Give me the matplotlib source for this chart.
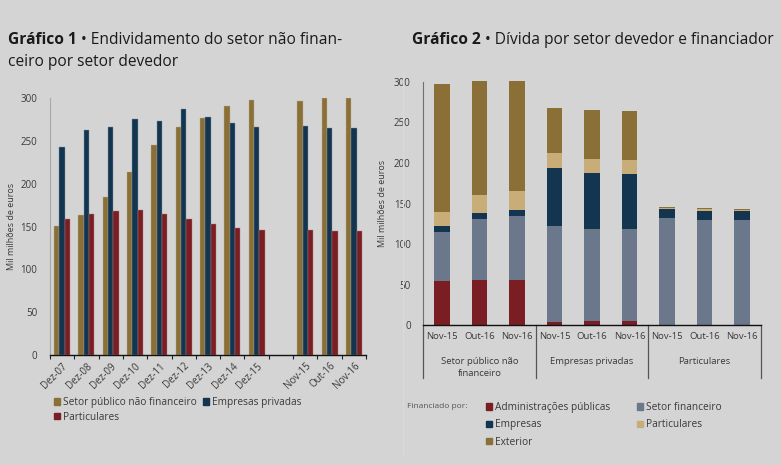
import numpy as np
import matplotlib
matplotlib.use("Agg")
import matplotlib.pyplot as plt
from matplotlib.patches import Patch
from matplotlib.lines import Line2D

plt.rcParams['font.family'] = ['Open Sans', 'DejaVu Sans']

# ---------------- Data: Gráfico 1 ----------------
cats1 = ['Dez-07', 'Dez-08', 'Dez-09', 'Dez-10', 'Dez-11', 'Dez-12', 'Dez-13',
         'Dez-14', 'Dez-15', '', 'Nov-15', 'Out-16', 'Nov-16']
spnf = [151, 164, 185, 214, 246, 266, 277, 291, 298, np.nan, 297, 300, 300]
empresas = [243, 263, 266, 276, 274, 288, 278, 271, 267, np.nan, 268, 265, 265]
particulares = [159, 165, 168, 169, 165, 159, 153, 149, 146, np.nan, 146, 145, 145]
series1_names = ['Setor público não financeiro', 'Empresas privadas', 'Particulares']

# ---------------- Data: Gráfico 2 ----------------
cats2 = ['Nov-15', 'Out-16', 'Nov-16'] * 3
groups2 = ['Setor público não\nfinanceiro', 'Empresas privadas', 'Particulares']
adm_publicas = [54, 55.5, 56, 4.5, 5.3, 5.3, 0, 0, 0]
setor_fin = [61, 75.5, 78, 118, 113.3, 113, 131.7, 129.7, 129.7]
emp_fin = [7.5, 7.5, 8, 71, 68.5, 68, 11.5, 11.5, 11]
part_fin = [17, 22.5, 24, 18.5, 17.7, 17.2, 1.5, 2, 1.7]
exterior = [157.5, 140, 135, 55.5, 60, 61, 1, 0.8, 0.8]
series2_names = ['Administrações públicas', 'Setor financeiro', 'Empresas', 'Particulares', 'Exterior']

# ---------------- Style ----------------
BG = '#d4d4d4'
GOLD = '#8a6f37'
NAVY = '#13354f'
RED = '#7a1e24'
SLATE = '#6b788c'
TAN = '#c8ad78'
TXT = '#3a3a3a'

W, H = 781, 465
fig = plt.figure(figsize=(W / 100, H / 100), dpi=100, facecolor=BG)

def fx(px):
    return px / W

def fy(py):
    return 1 - py / H

# ---------- Chart 1 ----------
ax1 = fig.add_axes([fx(50), fy(355), fx(366) - fx(50), fy(98.3) - fy(355)])
ax1.set_facecolor(BG)
x1 = np.arange(len(cats1))
bw = 0.22
ax1.bar(x1 - bw, spnf, bw, color=GOLD, label=series1_names[0], edgecolor='#bcae94', linewidth=0.3)
ax1.bar(x1, empresas, bw, color=NAVY, label=series1_names[1], edgecolor='#7f93a6', linewidth=0.3)
ax1.bar(x1 + bw, particulares, bw, color=RED, label=series1_names[2], edgecolor='#b07a7d', linewidth=0.3)
ax1.set_xlim(-0.5, len(cats1) - 0.5)
ax1.set_ylim(0, 300)
ax1.set_yticks(np.arange(0, 301, 50))
ax1.tick_params(axis='y', length=0, labelsize=7, labelcolor=TXT, pad=9)
ax1.set_xticks(x1)
ax1.set_xticklabels(cats1, rotation=45, ha='right', rotation_mode='anchor', fontsize=7, color=TXT)
ax1.tick_params(axis='x', length=0, pad=4)
ax1.set_xticks(np.arange(-0.5, len(cats1), 1), minor=True)
ax1.tick_params(axis='x', which='minor', length=3, color='#222222', width=0.8)
for s in ['top', 'right']:
    ax1.spines[s].set_visible(False)
ax1.spines['left'].set_color('#a8a8a8')
ax1.spines['bottom'].set_color('#111111')
ax1.spines['bottom'].set_linewidth(1.0)
ax1.set_ylabel('Mil milhões de euros', fontsize=6.5, color=TXT, labelpad=3)

h1 = [Patch(color=GOLD), Patch(color=RED), Patch(color=NAVY)]
l1 = [series1_names[0], series1_names[2], series1_names[1]]
fig.legend(h1, l1, loc='upper left', bbox_to_anchor=(fx(47), fy(390)), ncol=2, frameon=False,
           fontsize=7.3, handlelength=0.6, handleheight=0.6, handletextpad=0.3,
           columnspacing=0.6, labelspacing=0.35, labelcolor=TXT, borderpad=0.2)

# ---------- Chart 2 ----------
ax2 = fig.add_axes([fx(423.3), fy(325.3), fx(760.7) - fx(423.3), fy(81.7) - fy(325.3)])
ax2.set_facecolor(BG)
x2 = np.arange(len(cats2))
bw2 = 0.41
stack = [adm_publicas, setor_fin, emp_fin, part_fin, exterior]
colors2 = [RED, SLATE, NAVY, TAN, GOLD]
bottom = np.zeros(len(cats2))
for vals, c, n in zip(stack, colors2, series2_names):
    v = np.array(vals, dtype=float)
    ax2.bar(x2, v, bw2, bottom=bottom, color=c, label=n, clip_on=False)
    bottom += v
ax2.set_xlim(-0.5, len(cats2) - 0.5)
ax2.set_ylim(0, 300)
ax2.set_yticks(np.arange(0, 301, 50))
ax2.tick_params(axis='y', length=0, labelsize=7, labelcolor=TXT, pad=9)
ax2.set_xticks(x2)
ax2.set_xticklabels(cats2, fontsize=6.8, color=TXT)
ax2.tick_params(axis='x', length=0, pad=5)
for s in ['top', 'right']:
    ax2.spines[s].set_visible(False)
ax2.spines['left'].set_color('#707070')
ax2.spines['bottom'].set_color('#111111')
ax2.spines['bottom'].set_linewidth(1.0)
ax2.set_ylabel('Mil milhões de euros', fontsize=6.5, color=TXT, labelpad=5)

# group separators and labels
trans = ax2.get_xaxis_transform()
for i in range(len(groups2) + 1):
    xb = i * 3 - 0.5
    ax2.add_line(Line2D([xb, xb], [0, -0.215], transform=trans, color='#555555',
                        linewidth=0.9, clip_on=False))
for gi, g in enumerate(groups2):
    ax2.text(gi * 3 + 1, -0.13, g, transform=trans, ha='center', va='top',
             fontsize=6.8, color=TXT, linespacing=1.45)

fig.text(fx(407), fy(406), 'Financiado por:', fontsize=6, color='#555555', va='center', ha='left')
h2 = [Patch(color=RED), Patch(color=NAVY), Patch(color=GOLD), Patch(color=SLATE), Patch(color=TAN)]
l2 = [series2_names[0], series2_names[2], series2_names[4], series2_names[1], series2_names[3]]
fig.legend(h2, l2, loc='upper left', bbox_to_anchor=(fx(479), fy(395)), ncol=2, frameon=False,
           fontsize=7.3, handlelength=0.6, handleheight=0.6, handletextpad=0.3,
           columnspacing=2.6, labelspacing=0.62, labelcolor=TXT, borderpad=0.2)

# ---------- Titles ----------
renderer = fig.canvas.get_renderer()
TSIZE = 11.2

def title(xpx, ypx, bold, rest, size=TSIZE):
    t = fig.text(fx(xpx), fy(ypx), bold, fontsize=size, fontweight='bold', color='#1a1a1a',
                 va='center', ha='left')
    bb = t.get_window_extent(renderer)
    fig.text(bb.x1 / W, fy(ypx), ' • ' + rest, fontsize=size, color='#1a1a1a', va='center', ha='left')

title(8, 40, 'Gráfico 1', 'Endividamento do setor não finan-')
fig.text(fx(8), fy(62), 'ceiro por setor devedor', fontsize=TSIZE, color='#1a1a1a', va='center', ha='left')
title(412, 40, 'Gráfico 2', 'Dívida por setor devedor e financiador')

# faint divider between panels
fig.add_artist(Line2D([fx(403), fx(403)], [fy(70), fy(457)], color='#dadada', linewidth=0.8))

fig.savefig('out.png', dpi=100, facecolor=BG)
